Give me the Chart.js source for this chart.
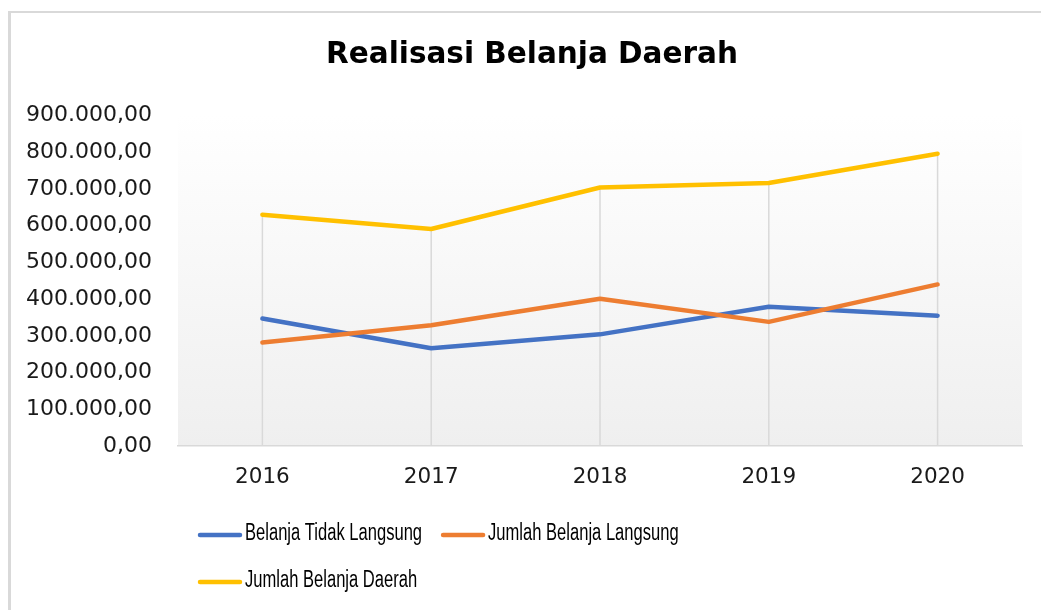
<!DOCTYPE html>
<html>
<head>
<meta charset="utf-8">
<script src="https://cdn.jsdelivr.net/npm/chart.js@4.4.1/dist/chart.umd.min.js"></script>
<style>
    body { margin: 0; background: #fff; overflow: hidden; width: 1041px; height: 610px; position: relative; }
    #frame { position: absolute; left: 8px; top: 11px; width: 1100px; height: 700px; border-left: 3px solid #d9d9d9; border-top: 2px solid #d9d9d9; }
    #wrap { position: absolute; left: 0; top: 0; width: 1064px; height: 610px; }
</style>
</head>
<body>
<div id="frame"></div>
<div id="wrap"><canvas id="chart"></canvas></div>
<script>
// data
const categories = ['2016', '2017', '2018', '2019', '2020'];
const belanjaTidakLangsung = [347000, 266000, 304000, 379000, 355000];
const jumlahBelanjaLangsung = [282000, 329000, 401000, 338000, 440000];
const jumlahBelanjaDaerah = [630000, 591000, 704000, 716000, 796000];
const seriesNames = ['Belanja Tidak Langsung', 'Jumlah Belanja Langsung', 'Jumlah Belanja Daerah'];
const seriesColors = ['#4472c4', '#ed7d31', '#ffc000'];
const chartTitle = 'Realisasi Belanja Daerah';

// 900000 -> "900.000,00"
function formatId(v) {
    const s = Math.round(v).toString().replace(/\B(?=(\d{3})+(?!\d))/g, '.');
    return s + ',00';
}

// gradient behind the plot area
const plotBackground = {
    id: 'plotBackground',
    beforeDraw(chart) {
        const { ctx, chartArea } = chart;
        const g = ctx.createLinearGradient(0, chartArea.top, 0, chartArea.bottom);
        g.addColorStop(0, '#ffffff');
        g.addColorStop(1, '#efefef');
        ctx.save();
        ctx.fillStyle = g;
        ctx.fillRect(chartArea.left, chartArea.top, chartArea.right - chartArea.left, chartArea.bottom - chartArea.top);
        ctx.restore();
    }
};

// drop lines from the highest point of each category down to the axis
const dropLines = {
    id: 'dropLines',
    beforeDatasetsDraw(chart) {
        const { ctx, chartArea } = chart;
        const metas = chart.data.datasets.map((d, i) => chart.getDatasetMeta(i));
        ctx.save();
        ctx.strokeStyle = '#d9d9d9';
        ctx.lineWidth = 1.5;
        categories.forEach((c, i) => {
            const x = metas[0].data[i].x;
            const top = Math.min(...metas.map(m => m.data[i].y));
            ctx.beginPath();
            ctx.moveTo(x, top);
            ctx.lineTo(x, chartArea.bottom);
            ctx.stroke();
        });
        ctx.restore();
    }
};

// title is centred on the whole chart object, not on the canvas padding box
const chartHeading = {
    id: 'chartHeading',
    afterDraw(chart) {
        const ctx = chart.ctx;
        ctx.save();
        ctx.font = 'bold 29.5px "DejaVu Sans"';
        ctx.fillStyle = '#000';
        ctx.textAlign = 'center';
        ctx.textBaseline = 'middle';
        ctx.fillText(chartTitle, 532, 55);
        ctx.restore();
    }
};

// Excel-like legend, left aligned, wrapping to a second row
const bottomLegend = {
    id: 'bottomLegend',
    afterDraw(chart) {
        const ctx = chart.ctx;
        const squeeze = 0.72;
        const startX = chart.chartArea.left + 20;
        const rows = [534, 581];
        const maxRight = 880;
        ctx.save();
        ctx.font = '23px "Liberation Sans", Arial, sans-serif';
        ctx.textBaseline = 'middle';
        let x = startX, row = 0;
        chart.data.datasets.forEach(ds => {
            const tw = ctx.measureText(ds.label).width * squeeze;
            const w = 44 + 3 + tw;
            if (x > startX && x + w > maxRight) { row++; x = startX; }
            const y = rows[row];
            ctx.strokeStyle = ds.borderColor;
            ctx.lineWidth = 4.5;
            ctx.lineCap = 'round';
            ctx.beginPath();
            ctx.moveTo(x + 2, y + 1);
            ctx.lineTo(x + 42, y + 1);
            ctx.stroke();
            ctx.save();
            ctx.translate(x + 47, y);
            ctx.scale(squeeze, 1);
            ctx.fillStyle = '#000';
            ctx.fillText(ds.label, 0, 0);
            ctx.restore();
            x += w + 19;
        });
        ctx.restore();
    }
};

const seriesData = [belanjaTidakLangsung, jumlahBelanjaLangsung, jumlahBelanjaDaerah];

new Chart(document.getElementById('chart'), {
    type: 'line',
    data: {
        labels: categories,
        datasets: seriesData.map((d, i) => ({
            label: seriesNames[i],
            data: d,
            borderColor: seriesColors[i],
            backgroundColor: seriesColors[i],
            borderWidth: 4.5,
            borderCapStyle: 'round',
            borderJoinStyle: 'round',
            pointRadius: 0,
            tension: 0,
            order: 3 - i
        }))
    },
    options: {
        responsive: true,
        maintainAspectRatio: false,
        animation: false,
        layout: { padding: { left: 10, right: 42, top: 115.5, bottom: 110 } },
        plugins: {
            legend: { display: false },
            tooltip: { enabled: false },
            title: { display: false }
        },
        scales: {
            x: {
                offset: true,
                grid: { display: false, drawTicks: false },
                border: { display: true, color: '#d9d9d9', width: 1.5 },
                ticks: { color: '#1a1a1a', padding: 19, font: { family: '"DejaVu Sans"', size: 21.5 } },
                afterFit(scale) { scale.height = 54; }
            },
            y: {
                min: 0,
                max: 900000,
                grid: { display: false, drawTicks: false },
                border: { display: false },
                ticks: {
                    stepSize: 100000,
                    color: '#1a1a1a',
                    padding: 26,
                    font: { family: '"DejaVu Sans"', size: 22 },
                    callback: v => formatId(v)
                },
                afterFit(scale) { scale.width = 168; }
            }
        }
    },
    plugins: [plotBackground, dropLines, chartHeading, bottomLegend]
});
</script>
</body>
</html>
